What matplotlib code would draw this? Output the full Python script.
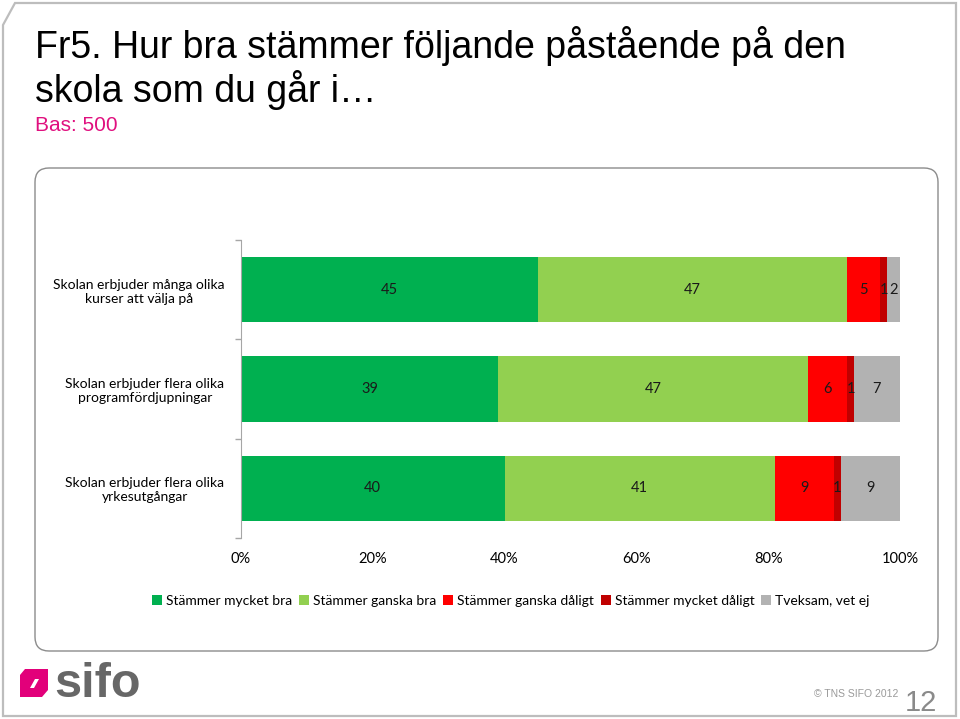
import matplotlib.pyplot as plt
import numpy as np
from matplotlib.patches import FancyBboxPatch, Polygon

categories = ['Skolan erbjuder många olika\nkurser att välja på',
              'Skolan erbjuder flera olika\nprogramfördjupningar',
              'Skolan erbjuder flera olika\nyrkesutgångar']
series_names = ['Stämmer mycket bra', 'Stämmer ganska bra', 'Stämmer ganska dåligt',
                'Stämmer mycket dåligt', 'Tveksam, vet ej']
mycket_bra = [45, 39, 40]
ganska_bra = [47, 47, 41]
ganska_daligt = [5, 6, 9]
mycket_daligt = [1, 1, 1]
tveksam = [2, 7, 9]
xticks = [0, 20, 40, 60, 80, 100]

colors = ['#00B050', '#92D050', '#FF0000', '#C00000', '#B2B2B2']
chart_font = 'Lato'

fig = plt.figure(figsize=(9.6, 7.19), dpi=100)

# background layer in pixel coordinates
bg = fig.add_axes([0, 0, 1, 1])
bg.set_xlim(0, 960)
bg.set_ylim(719, 0)
bg.axis('off')

# outer frame with cut top-left corner
frame = Polygon([(3, 25), (15, 3), (956, 3), (956, 716), (3, 716)], closed=True,
                fill=False, edgecolor='#BDBDBD', lw=1.6)
bg.add_patch(frame)

# rounded chart panel
panel = FancyBboxPatch((35, 168), 903, 483, boxstyle='round,pad=0,rounding_size=14',
                       fill=False, edgecolor='#8C8C8C', lw=1.0)
bg.add_patch(panel)

# titles
bg.text(35, 58, 'Fr5. Hur bra stämmer följande påstående på den', fontsize=27,
        family='Liberation Sans', va='baseline', ha='left')
bg.text(35, 102, 'skola som du går i…', fontsize=27,
        family='Liberation Sans', va='baseline', ha='left')
bg.text(35, 131, 'Bas: 500', fontsize=15, color='#E0107F',
        family='Liberation Sans', va='baseline', ha='left')

# sifo logo
logo = Polygon([(25, 669), (48, 669), (48, 690), (42, 697), (20, 697), (20, 675)],
               closed=True, color='#E2007A', lw=0)
bg.add_patch(logo)
slit = Polygon([(30, 688), (35, 679), (39, 679), (34, 688)], closed=True, color='white', lw=0)
bg.add_patch(slit)
bg.text(54, 697, 'sifo', fontsize=35, fontweight='bold', color='#676767',
        family='Liberation Sans', va='baseline', ha='left')

bg.text(898, 697, '© TNS SIFO 2012', fontsize=7.5, color='#9A9A9A',
        family='Liberation Sans', va='baseline', ha='right')
bg.text(905, 711, '12', fontsize=21, color='#8A8A8A',
        family='Liberation Sans', va='baseline', ha='left')

# chart
ax = fig.add_axes([241 / 960, 1 - 538 / 719, 659 / 960, 298 / 719])
ax.patch.set_alpha(0)

data = [mycket_bra, ganska_bra, ganska_daligt, mycket_daligt, tveksam]
y = np.arange(len(categories))
left = np.zeros(len(categories))
for vals, name, col in zip(data, series_names, colors):
    vals = np.array(vals, dtype=float)
    bars = ax.barh(y, vals, left=left, height=0.66, color=col, label=name)
    for b, v in zip(bars, vals):
        ax.text(b.get_x() + b.get_width() / 2, b.get_y() + b.get_height() / 2,
                f'{int(v)}', ha='center', va='center', fontsize=10.5,
                family=chart_font, color='#1A1A1A')
    left += vals

ax.set_xlim(0, 100)
ax.set_ylim(2.5, -0.5)
ax.set_yticks(y)
ax.set_yticklabels(categories, family=chart_font, fontsize=10, multialignment='center')
ax.set_yticks([-0.5, 0.5, 1.5, 2.5], minor=True)
ax.tick_params(axis='y', which='major', length=0, pad=12)
ax.tick_params(axis='y', which='minor', length=4, color='#A6A6A6', width=1)
ax.set_xticks(xticks)
ax.set_xticklabels([f'{t}%' for t in xticks], family=chart_font, fontsize=10.5)
ax.tick_params(axis='x', length=0, pad=10)
for s in ['top', 'right', 'bottom']:
    ax.spines[s].set_visible(False)
ax.spines['left'].set_color('#A6A6A6')

fig.legend(loc='center', bbox_to_anchor=(511 / 960, 1 - 601 / 719), ncol=5,
           frameon=False, prop={'family': chart_font, 'size': 10},
           handlelength=0.7, handleheight=0.7, handletextpad=0.3, columnspacing=0.5)

fig.savefig('out.png', dpi=100)
